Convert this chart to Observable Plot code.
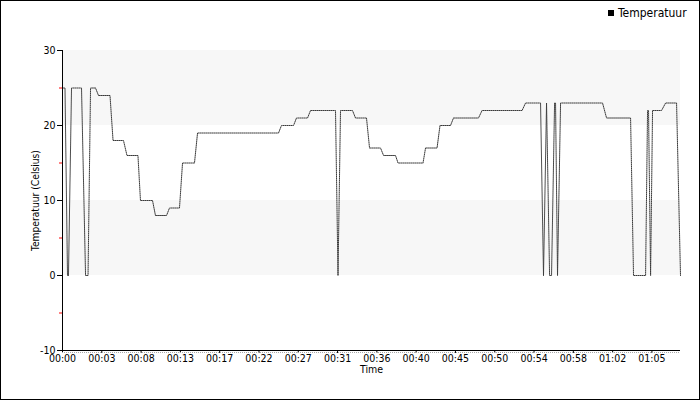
<!DOCTYPE html>
<html>
<head>
<meta charset="utf-8">
<script src="https://cdn.jsdelivr.net/npm/d3@7"></script>
<script src="https://cdn.jsdelivr.net/npm/@observablehq/plot@0.6"></script>
<style>
  body { margin: 0; background: #fff; }
  #wrap { position: relative; width: 700px; height: 400px; font-family: "DejaVu Sans Condensed", "Liberation Sans", sans-serif; font-size: 12px; color: #000; }
  #wrap svg { display: block; }
  #border { position: absolute; left: 0; top: 0; width: 700px; height: 400px; border: 1px solid #000; box-sizing: border-box; pointer-events: none; }
  #legend { position: absolute; top: 6px; left: 608px; display: flex; align-items: center; gap: 4px; }
  #legend .sw { display: inline-block; width: 6px; height: 6px; background: #000; }
</style>
</head>
<body>
<div id="wrap">
  <div id="legend"><span class="sw"></span><span>Temperatuur</span></div>
  <div id="border"></div>
</div>
<script>
// Time (minutes since start) and temperature (Celsius)
const times = [0, 0.28, 0.56, 0.67, 1.01, 2.13, 2.58, 2.86, 3.14, 3.70, 4.03, 5.32, 5.66, 6.83, 7.22, 8.45, 8.73, 10.08, 10.41, 11.65,
  11.98, 13.10, 13.44, 14.78, 15.12, 24.19, 24.52, 25.87, 26.20, 27.44, 27.77, 30.57, 30.85, 31.13, 32.47, 32.81, 34.04, 34.38, 35.61, 35.95,
  37.29, 37.57, 40.37, 40.65, 41.94, 42.27, 43.45, 43.78, 46.58, 46.98, 51.46, 51.85, 53.53, 53.86, 54.20, 54.54, 54.76, 55.10, 55.21, 55.43,
  55.77, 60.47, 60.92, 63.61, 63.94, 65.29, 65.51, 65.62, 65.85, 66.07, 67.08, 67.53, 68.76, 69.20];
const temps = [25, 25, 0, 0, 25, 25, 0, 0, 25, 25, 24, 24, 18, 18, 16, 16, 10, 10, 8, 8,
  9, 9, 15, 15, 19, 19, 20, 20, 21, 21, 22, 22, 0, 22, 22, 21, 21, 17, 17, 16,
  16, 15, 15, 17, 17, 20, 20, 21, 21, 22, 22, 23, 23, 0, 23, 0, 0, 23, 23, 0,
  23, 23, 21, 21, 0, 0, 22, 22, 0, 22, 22, 23, 23, 0];

const xTickLabels = ["00:00", "00:03", "00:08", "00:13", "00:17", "00:22", "00:27", "00:31", "00:36", "00:40", "00:45", "00:50", "00:54", "00:58", "01:02", "01:05"];
const xTickStep = 4.4;          // minutes between labelled ticks
const xDomain = [0, 69.2];
const yDomain = [-10, 30];
const yTicks = [-10, 0, 10, 20, 30];
const yMinorTicks = [-5, 5, 15, 25];
const bandLow = [0, 20];        // lower bounds of shaded bands
const bandHigh = [10, 30];      // upper bounds of shaded bands
const xLabel = "Time";
const yLabel = "Temperatuur (Celsius)";

const series = times.map((t, i) => ({t, temp: temps[i]}));
const bands = bandLow.map((lo, i) => ({lo, hi: bandHigh[i]}));
const xTicks = xTickLabels.map((_, i) => i * xTickStep);
const font = "'DejaVu Sans Condensed', 'Liberation Sans', sans-serif";

const chart = Plot.plot({
  width: 700,
  height: 400,
  marginLeft: 62,
  marginRight: 20,
  marginTop: 50,
  marginBottom: 50,
  x: {domain: xDomain},
  y: {domain: yDomain},
  style: {fontFamily: font, fontSize: "10.5px", color: "#000", background: "transparent"},
  marks: [
    Plot.rect(bands, {x1: xDomain[0], x2: xDomain[1], y1: "lo", y2: "hi", fill: "#f7f7f7"}),
    Plot.line(series, {x: "t", y: "temp", stroke: "#3a3a3a", strokeWidth: 1, strokeDasharray: "1,1"}),
    Plot.axisY({ticks: yTicks, tickSize: 5, tickPadding: 2, tickFormat: d => String(d), label: null, stroke: "#000", fontSize: 10.5}),
    Plot.axisY({ticks: yMinorTicks, tickSize: 3, tickPadding: 0, tickFormat: () => "", label: null, stroke: "#ff5a5a", strokeWidth: 1.5}),
    Plot.axisX({ticks: xTicks, tickSize: 3, tickPadding: 1, tickFormat: d => xTickLabels[Math.round(d / xTickStep)], label: null, stroke: "#000", fontSize: 10.5}),
    Plot.ruleX([xDomain[0]], {stroke: "#000"}),
    Plot.ruleY([yDomain[0]], {stroke: "#000"}),
    Plot.ruleY([yDomain[0]], {dy: 2, stroke: "#aaa", strokeDasharray: "1,1"}),
    Plot.text([yLabel], {frameAnchor: "left", textAnchor: "middle", lineAnchor: "middle", rotate: -90, dx: -27, text: d => d, fontSize: 10.2}),
    Plot.text([xLabel], {frameAnchor: "bottom", textAnchor: "middle", lineAnchor: "middle", dy: 19, text: d => d, fontSize: 10.5})
  ]
});
document.getElementById("wrap").prepend(chart);
</script>
</body>
</html>
